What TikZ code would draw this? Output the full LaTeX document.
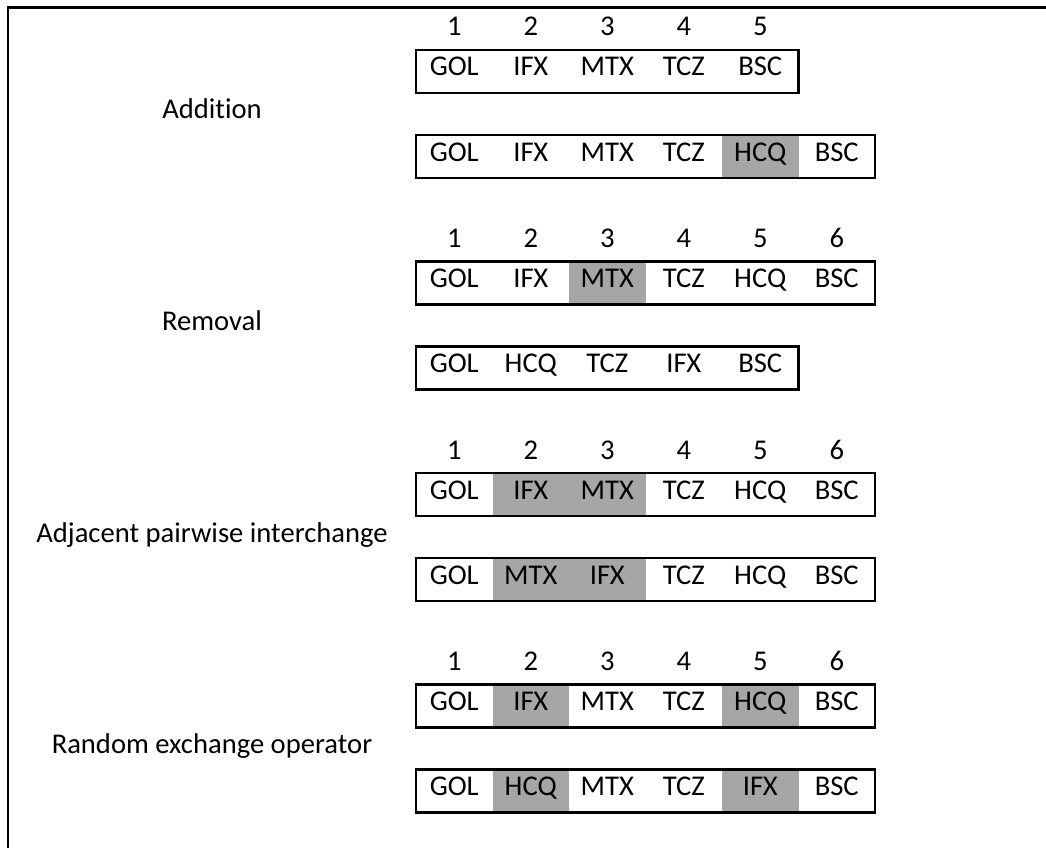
\documentclass[tikz,border=0pt]{standalone}
\usepackage{fontspec}
\setmainfont{Carlito}[Ligatures=NoCommon]
\definecolor{shadegray}{RGB}{166,166,166}
\newcommand\txt{\fontsize{28.6pt}{34pt}\selectfont}
\tikzset{
  cellbox/.style={minimum width=76.5pt, text height=26pt, text depth=17pt, inner sep=0pt, font=\txt},
  s0/.style={},
  s1/.style={fill=shadegray},
  boxline/.style={line width=2.5pt},
  framelines/.style={line width=2.5pt},
  numlabel/.style={anchor=base, inner sep=0pt, font=\txt},
  oplabel/.style={anchor=base, inner sep=0pt, font=\txt},
}
\newcommand\cellrow[3]{%
  \foreach \t/\s [count=\i] in {#3}{
    \node[cellbox, s\s] (#1\i) at ({454.25+76.5*(\i-1)}, #2) {\t};
    \xdef\lastcell{\i}
  }
  \draw[boxline] (#11.north west) rectangle (#1\lastcell.south east);
}
\newcommand\numrow[3]{%
  \foreach \n in {1,...,#3}{
    \node[numlabel] (#1\n) at ({454.25+76.5*(\n-1)}, #2) {\n};
  }
}
\begin{document}
\begin{tikzpicture}[x=1pt,y=-1pt]
\useasboundingbox (0,0) rectangle (1046,848);
\coordinate (fbl) at (8,848);
\coordinate (ftl) at (8,7.5);
\coordinate (ftr) at (1046,7.5);
\draw[framelines] (fbl) -- (ftl) -- (ftr);

% Addition
\numrow{an}{36}{5}
\cellrow{at}{71.5}{GOL/0,IFX/0,MTX/0,TCZ/0,BSC/0}
\cellrow{ab}{156.5}{GOL/0,IFX/0,MTX/0,TCZ/0,HCQ/1,BSC/0}
\node[oplabel] (addl) at (212,119) {Addition};

% Removal
\numrow{rn}{247.5}{6}
\cellrow{rt}{283}{GOL/0,IFX/0,MTX/1,TCZ/0,HCQ/0,BSC/0}
\cellrow{rb}{368}{GOL/0,HCQ/0,TCZ/0,IFX/0,BSC/0}
\node[oplabel] (reml) at (212,330.5) {Removal};

% Adjacent pairwise interchange
\numrow{pn}{459}{6}
\cellrow{pt}{494.5}{GOL/0,IFX/1,MTX/1,TCZ/0,HCQ/0,BSC/0}
\cellrow{pb}{579.5}{GOL/0,MTX/1,IFX/1,TCZ/0,HCQ/0,BSC/0}
\node[oplabel] (adjl) at (212,542) {Adjacent pairwise interchange};

% Random exchange operator
\numrow{xn}{670.5}{6}
\cellrow{xt}{706}{GOL/0,IFX/1,MTX/0,TCZ/0,HCQ/1,BSC/0}
\cellrow{xb}{791}{GOL/0,HCQ/1,MTX/0,TCZ/0,IFX/1,BSC/0}
\node[oplabel] (rndl) at (212,753.5) {Random exchange operator};
\end{tikzpicture}
\end{document}
